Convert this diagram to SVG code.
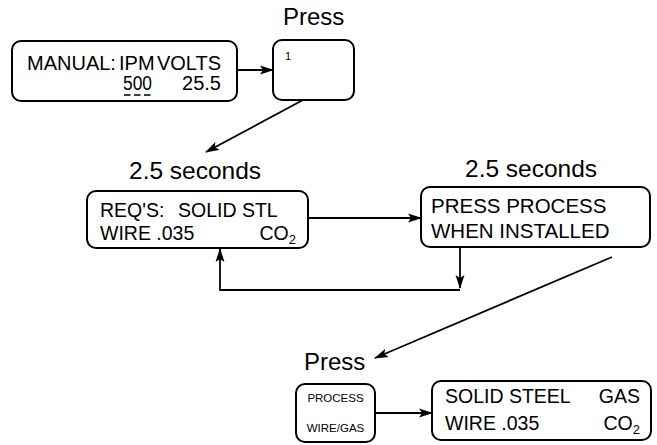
<svg xmlns="http://www.w3.org/2000/svg" width="657" height="445" viewBox="0 0 657 445">
<style>
.box{fill:#fff;stroke:#000;stroke-width:2}
.t{font-family:"Liberation Sans",Arial,sans-serif;fill:#000}
.lbl{font-size:24.5px}
.main{font-size:19.5px}
.small{font-size:11.5px}
.con{fill:none;stroke:#000;stroke-width:1.8}
</style>
<defs>
<marker id="ah" markerUnits="userSpaceOnUse" markerWidth="14" markerHeight="10" refX="13" refY="5" orient="auto">
<path d="M0,0.5 L14,5 L0,9.5 L3,5 z" fill="#000"/>
</marker>
</defs>
<rect width="657" height="445" fill="#fff"/>

<g id="labels">
<text class="t" x="283" y="25" font-size="24px">Press</text>
<text class="t lbl" x="129" y="179">2.5 seconds</text>
<text class="t lbl" x="465" y="177">2.5 seconds</text>
<text class="t" x="304" y="370" font-size="24px">Press</text>
</g>

<g id="node-manual">
<rect class="box" x="12" y="41" width="225" height="60" rx="9"/>
<text class="t" x="27" y="70" font-size="20px">MANUAL:</text>
<text class="t" x="119" y="70" font-size="20px">IPM</text>
<text class="t" x="157" y="70" font-size="20px" textLength="64" lengthAdjust="spacingAndGlyphs">VOLTS</text>
<text class="t" x="123" y="90" font-size="20px" textLength="29" lengthAdjust="spacingAndGlyphs">500</text>
<text class="t" x="221" y="90" font-size="20px" text-anchor="end">25.5</text>
<line x1="124" y1="95" x2="151" y2="95" stroke="#000" stroke-width="1.3" stroke-dasharray="6.5,3.5"/>
</g>

<g id="node-key1">
<rect class="box" x="273" y="40" width="81" height="60" rx="9"/>
<text class="t" x="285" y="60" font-size="11px">1</text>
</g>

<g id="node-reqs">
<rect class="box" x="87" y="191" width="221" height="57" rx="9"/>
<text class="t main" x="100" y="217">REQ'S:</text>
<text class="t main" x="178" y="217">SOLID STL</text>
<text class="t main" x="100" y="240">WIRE .035</text>
<text class="t main" x="296" y="240" text-anchor="end">CO<tspan font-size="13px" dy="4">2</tspan></text>
</g>

<g id="node-press-process">
<rect class="box" x="421" y="187" width="229" height="60" rx="9"/>
<text class="t" x="431" y="213" font-size="20.5px">PRESS PROCESS</text>
<text class="t" x="431" y="238" font-size="20.5px">WHEN INSTALLED</text>
</g>

<g id="node-process-key">
<rect class="box" x="296" y="384" width="79" height="58" rx="9"/>
<text class="t small" x="335.5" y="402" text-anchor="middle">PROCESS</text>
<text class="t small" x="335.5" y="432" text-anchor="middle">WIRE/GAS</text>
</g>

<g id="node-solid-steel">
<rect class="box" x="432" y="381" width="219" height="59" rx="9"/>
<text class="t main" x="445" y="403">SOLID STEEL</text>
<text class="t main" x="640" y="403" text-anchor="end">GAS</text>
<text class="t main" x="445" y="430">WIRE .035</text>
<text class="t main" x="640" y="430" text-anchor="end">CO<tspan font-size="13px" dy="4">2</tspan></text>
</g>

<g id="connectors">
<line class="con" x1="237" y1="70" x2="273" y2="70" marker-end="url(#ah)"/>
<line class="con" x1="303" y1="100" x2="206" y2="152" marker-end="url(#ah)"/>
<line class="con" x1="308" y1="218" x2="421" y2="218" marker-end="url(#ah)"/>
<line class="con" x1="460" y1="247" x2="460" y2="288" marker-end="url(#ah)"/>
<polyline class="con" points="460,290 220,290 220,249" marker-end="url(#ah)"/>
<line class="con" x1="612" y1="257" x2="375" y2="358" marker-end="url(#ah)"/>
<line class="con" x1="375" y1="413" x2="432" y2="413" marker-end="url(#ah)"/>
</g>
</svg>
